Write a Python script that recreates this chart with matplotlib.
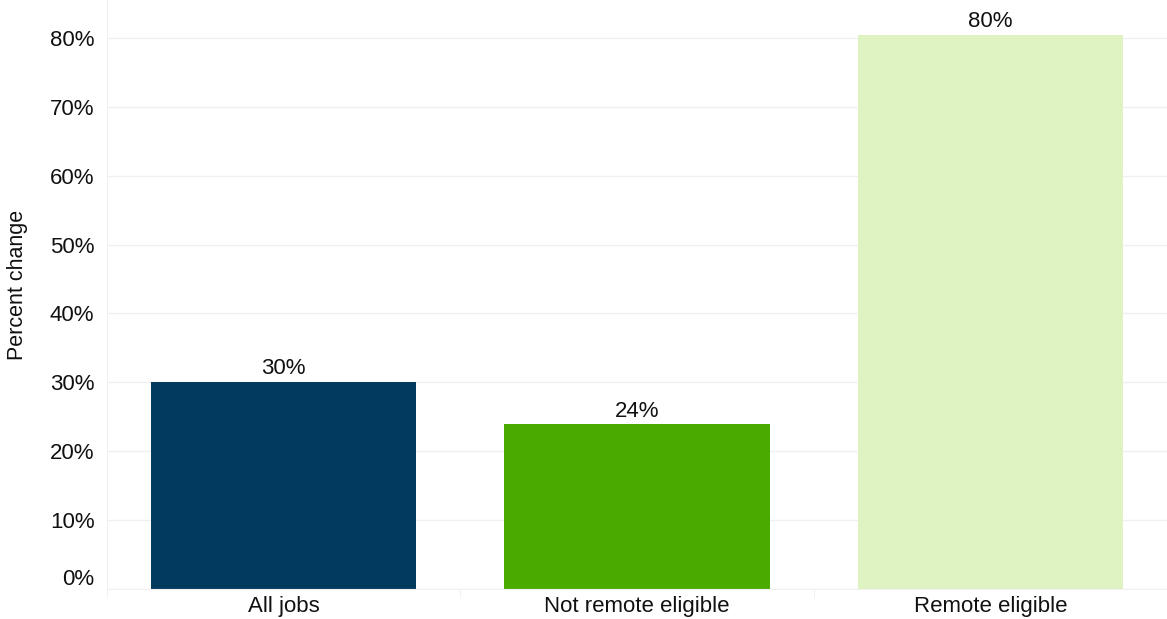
import matplotlib.pyplot as plt
import matplotlib.transforms as mtransforms
import numpy as np

categories = ["All jobs", "Not remote eligible", "Remote eligible"]
pct_change = [30.1, 23.9, 80.4]
value_labels = ["30%", "24%", "80%"]
bar_colors = ["#003B5F", "#4BAA00", "#DEF2C2"]
yticks = [0, 10, 20, 30, 40, 50, 60, 70, 80]

plt.rcParams["font.family"] = ["Liberation Sans", "DejaVu Sans"]

fig = plt.figure(figsize=(11.67, 6.19), dpi=100)
ax = fig.add_axes([107 / 1167, 1 - 589 / 619, 1 - 107 / 1167, 589 / 619])

x = np.arange(len(categories))
ax.bar(x, pct_change, width=0.75, color=bar_colors, zorder=2)

for xi, v, lab in zip(x, pct_change, value_labels):
    ax.annotate(lab, (xi, v), xytext=(0, 2), textcoords="offset points",
                ha="center", va="bottom", fontsize=16, color="#111111")

ax.set_xlim(-0.5, 2.465)
ax.set_ylim(0, 85.5)
ax.set_yticks(yticks)
ax.set_yticklabels([f"{t}%" for t in yticks])
ax.set_xticks(x)
ax.set_xticklabels(categories)
ax.tick_params(axis="y", length=0, pad=9, labelsize=16, labelcolor="#111111")
ax.tick_params(axis="x", length=0, pad=5, labelsize=16, labelcolor="#111111")

# category separators along the bottom
ax.set_xticks([-0.5, 0.5, 1.5, 2.5], minor=True)
ax.tick_params(axis="x", which="minor", length=6, color="#EEEEEE", direction="out")

# lift the zero label off the baseline
zero_lab = ax.get_yticklabels()[0]
zero_lab.set_transform(zero_lab.get_transform() +
                       mtransforms.ScaledTranslation(0, 12 / 100, fig.dpi_scale_trans))

ax.grid(axis="y", color="#F0F0F0", linewidth=1, zorder=0)
for side in ["top", "right"]:
    ax.spines[side].set_visible(False)
ax.spines["left"].set_color("#F0F0F0")
ax.spines["bottom"].set_color("#F0F0F0")

fig.text(18 / 1167, 1 - 285 / 619, "Percent change", rotation=90,
         ha="center", va="center", fontsize=15.5, color="#111111")

fig.savefig("out.png", dpi=100)
